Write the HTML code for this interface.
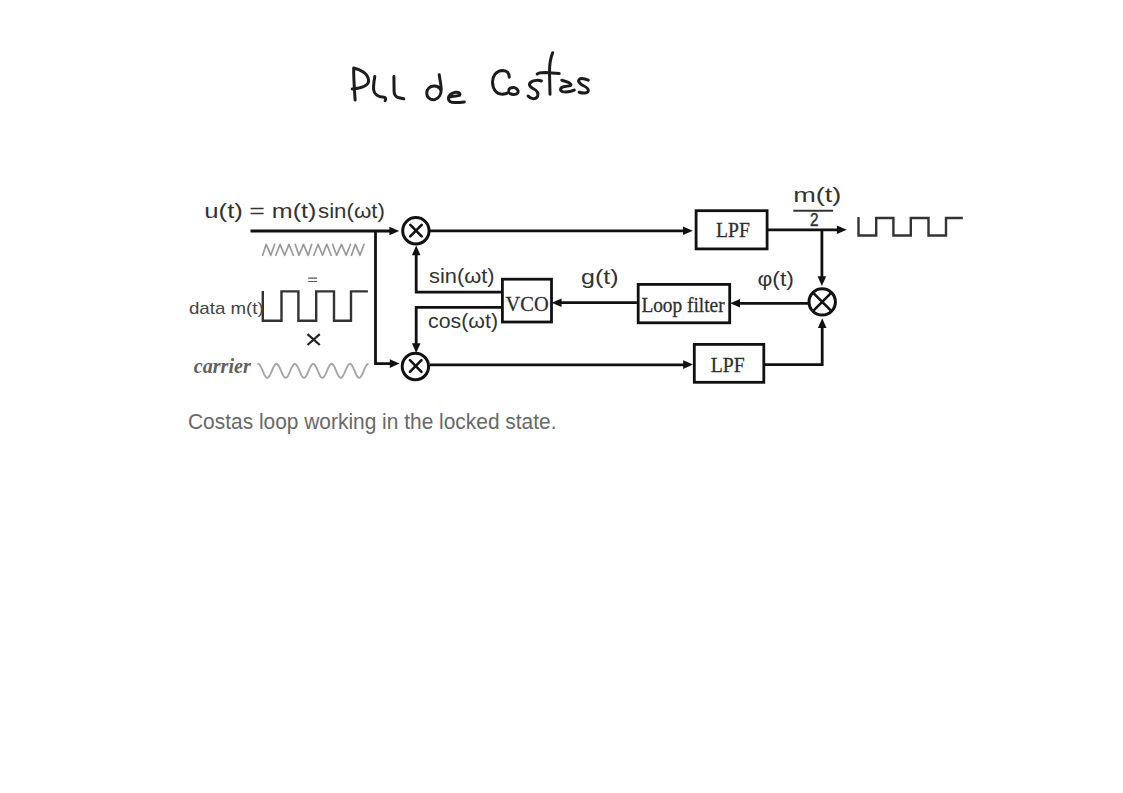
<!DOCTYPE html>
<html><head><meta charset="utf-8">
<style>
html,body{margin:0;padding:0;background:#fff;width:1123px;height:793px;overflow:hidden}
svg{display:block;position:absolute;left:0;top:0}
</style></head>
<body>
<svg width="1123" height="793" viewBox="0 0 1123 793">
<rect width="1123" height="793" fill="#fff"/>
<!-- handwriting -->
<g fill="none" stroke="#1c1c1c" stroke-width="3" stroke-linecap="round" stroke-linejoin="round">
<path d="M355.1,100 C354.5,90 353.5,78 353.7,68 C360,69.3 368,73.5 368.6,80.3 C369,85.5 361,88 352.2,88.9"/>
<path d="M374.8,76.4 C374,81 373.3,86 373.6,89.7 C374,94 378,97 384,97.3 C386,97.6 386,99.5 385.1,100.7"/>
<path d="M393.9,76.4 L394.1,90.9 C394,94.5 396,96.7 398,97.5 L403.7,98.8"/>
<path d="M439.2,74.8 C440,80 441.2,85 441.2,89.5 C441.2,94 439,98.6 435,99.5 C430,100.3 426.7,97 426.7,93.2 C426.7,89 430,86 434,86 C437.5,86 440,88 441,90.5"/>
<path d="M449.8,96.9 C453,96.5 457,96 459.6,95.4 C460.8,93.0 458,91.9 455.5,92.2 C451.5,93.2 448.4,95.6 448.4,98.6 C448.6,101.5 451,102.6 455,102.6 C458.5,102.6 461.5,102.3 464.3,101.9"/>
<path d="M509.2,77.2 C509.3,72.5 506.5,70.4 502.4,70.4 C496,70.6 492.5,76.5 492.5,82 C492.7,89.5 496.5,94.2 502,94.2 C505,94.2 507,93.5 508.5,92.5"/>
<path d="M508.8,90.5 C508.6,88 511,87.5 513.8,87.6 C517.5,88 518.7,91 517.8,93 C516.5,95 512,95 510,93.5"/>
<path d="M541.4,81 C539,80 534,80 531,82 C528,84.5 530,87 533,88.5 C537,90.5 539,93 537.5,96.5 C536,99.5 531,99.5 528.1,96"/>
<path d="M552.7,52.7 C550.5,58 549.5,64 549.5,72 L550,94.3"/>
<path d="M537.2,74 C538.5,72.5 541,72.4 545,72.4 L559.2,73.6"/>
<path d="M561.8,80.2 C565,81 570,82.5 570.9,84.4 C571.5,86 567,86.3 563.7,86.7 C560,87.5 559.5,90.5 562.6,91.6 C566,92.5 571,91.5 574.3,90.1"/>
<path d="M588.3,80.2 C585.5,79 581,77.5 579.2,79.5 C577.5,81.5 580,83.5 582,85 C585,86.5 589,88 588.3,91 C587.5,93.5 583,93.5 579.2,92.3"/>
</g>

<!-- diagram lines -->
<g fill="none" stroke="#111" stroke-width="2.8" stroke-linejoin="miter">
<path d="M250.5,231 H391"/>
<path d="M375.5,231 V363.6 H392"/>
<path d="M429,230.8 H685"/>
<path d="M767.8,229.8 H839"/>
<path d="M821.9,229.8 V278"/>
<path d="M808,303.3 H738"/>
<path d="M636.9,302.7 H559"/>
<path d="M501.4,292.1 H416.2 V253"/>
<path d="M501.4,307.3 H416.2 V346"/>
<path d="M430,364.9 H686"/>
<path d="M764.3,364.7 H822.2 V326"/>
<rect x="502.4" y="279.2" width="49.1" height="42.8"/>
<rect x="638.2" y="284.4" width="91.5" height="38.4"/>
<rect x="696.1" y="210.7" width="71" height="38.2"/>
<rect x="694.3" y="344.4" width="69.5" height="37.9"/>
</g>
<g fill="none" stroke="#111" stroke-width="3">
<circle cx="415.9" cy="230.8" r="13.2"/>
<circle cx="415.4" cy="366.5" r="13.2"/>
<circle cx="822.2" cy="301.9" r="13.2"/>
</g>
<g fill="none" stroke="#111" stroke-width="2.6" stroke-linecap="round">
<path d="M410.3,224.9 L421.7,236.3 M421.7,224.9 L410.3,236.3"/>
<path d="M409.9,360.2 L421.5,371.8 M421.5,360.2 L409.9,371.8"/>
<path d="M813.2,292.9 L831.2,310.9 M831.2,292.9 L813.2,310.9"/>
</g>
<!-- arrowheads -->
<g fill="#111">
<path d="M399.2,231.0 L389.4,226.7 L389.4,235.3 Z"/>
<path d="M399.6,363.6 L389.8,359.3 L389.8,367.9 Z"/>
<path d="M692.8,230.8 L683.0,226.5 L683.0,235.1 Z"/>
<path d="M846.7,229.8 L836.9,225.5 L836.9,234.1 Z"/>
<path d="M821.9,286.0 L817.6,276.2 L826.2,276.2 Z"/>
<path d="M730.2,303.3 L740.0,299.0 L740.0,307.6 Z"/>
<path d="M551.7,302.7 L561.5,298.4 L561.5,307.0 Z"/>
<path d="M416.2,245.4 L411.9,255.2 L420.5,255.2 Z"/>
<path d="M416.2,353 L411.9,343.2 L420.5,343.2 Z"/>
<path d="M693.0,364.6 L683.2,360.3 L683.2,368.9 Z"/>
<path d="M822.2,318.3 L817.9,328.1 L826.5,328.1 Z"/>
</g>
<!-- square waves -->
<g fill="none" stroke="#333" stroke-width="2.4">
<path d="M858.5,217 V235.5 H876.2 V218 H893.4 V235.5 H910.8 V218 H928.5 V235.5 H946 V218 H962.8"/>
<path d="M262.8,291 V320.8 H281.5 V291.4 H298.4 V320.8 H316.2 V291.4 H334 V320.8 H351 V291.4 H367.9"/>
</g>
<!-- waves -->
<path fill="none" stroke="#9a9a9a" stroke-width="1.7" stroke-linejoin="round" stroke-linecap="round" d="M262.6,255.3 L266.2,244.3 L270.8,255.3 L274.7,244.3 M275.8,255.3 L280.1,244.3 L284.7,255.3 L289,244.3 L293.3,255.3 M295.2,244.3 L298.9,255.3 L303.5,244.3 L308.2,255.3 L311.7,244.3 M313.8,255.3 L318.1,244.3 L322.5,255.3 L326.8,244.3 L331.1,255.3 M332.6,244.3 L336.6,255.3 L341.5,244.3 L346.2,255.3 L350.5,244.3 M351.5,255.3 L355.4,244.3 L360,255.3 L364,244.3"/>
<path fill="none" stroke="#a6a6a6" stroke-width="1.9" stroke-linejoin="round" stroke-linecap="round" d="M258.10,363.90 L258.70,364.05 L259.30,364.48 L259.90,365.18 L260.50,366.11 L261.10,367.25 L261.70,368.54 L262.30,369.92 L262.90,371.34 L263.50,372.75 L264.10,374.07 L264.70,375.26 L265.30,376.26 L265.90,377.03 L266.50,377.55 L267.10,377.79 L267.70,377.73 L268.30,377.39 L268.90,376.77 L269.50,375.90 L270.10,374.82 L270.70,373.57 L271.30,372.21 L271.90,370.80 L272.50,369.38 L273.10,368.03 L273.70,366.79 L274.30,365.73 L274.90,364.88 L275.50,364.28 L276.10,363.96 L276.70,363.92 L277.30,364.18 L277.90,364.71 L278.50,365.51 L279.10,366.53 L279.70,367.73 L280.30,369.06 L280.90,370.46 L281.50,371.89 L282.10,373.26 L282.70,374.54 L283.30,375.66 L283.90,376.59 L284.50,377.26 L285.10,377.68 L285.70,377.80 L286.30,377.63 L286.90,377.18 L287.50,376.46 L288.10,375.51 L288.70,374.36 L289.30,373.06 L289.90,371.67 L290.50,370.25 L291.10,368.85 L291.70,367.54 L292.30,366.36 L292.90,365.37 L293.50,364.62 L294.10,364.12 L294.70,363.91 L295.30,363.99 L295.90,364.35 L296.50,364.99 L297.10,365.88 L297.70,366.97 L298.30,368.22 L298.90,369.59 L299.50,371.01 L300.10,372.42 L300.70,373.77 L301.30,374.99 L301.90,376.04 L302.50,376.88 L303.10,377.46 L303.70,377.76 L304.30,377.77 L304.90,377.49 L305.50,376.93 L306.10,376.12 L306.70,375.09 L307.30,373.88 L307.90,372.54 L308.50,371.13 L309.10,369.71 L309.70,368.34 L310.30,367.07 L310.90,365.96 L311.50,365.06 L312.10,364.39 L312.70,364.01 L313.30,363.90 L313.90,364.09 L314.50,364.57 L315.10,365.30 L315.70,366.27 L316.30,367.43 L316.90,368.74 L317.50,370.13 L318.10,371.56 L318.70,372.95 L319.30,374.26 L319.90,375.42 L320.50,376.39 L321.10,377.13 L321.70,377.60 L322.30,377.80 L322.90,377.70 L323.50,377.31 L324.10,376.65 L324.70,375.75 L325.30,374.64 L325.90,373.38 L326.50,372.00 L327.10,370.58 L327.70,369.17 L328.30,367.83 L328.90,366.62 L329.50,365.59 L330.10,364.77 L330.70,364.21 L331.30,363.93 L331.90,363.94 L332.50,364.24 L333.10,364.82 L333.70,365.65 L334.30,366.70 L334.90,367.92 L335.50,369.27 L336.10,370.68 L336.70,372.10 L337.30,373.46 L337.90,374.72 L338.50,375.82 L339.10,376.70 L339.70,377.34 L340.30,377.71 L340.90,377.79 L341.50,377.58 L342.10,377.09 L342.70,376.33 L343.30,375.35 L343.90,374.17 L344.50,372.86 L345.10,371.46 L345.70,370.04 L346.30,368.65 L346.90,367.35 L347.50,366.20 L348.10,365.25 L348.70,364.53 L349.30,364.07 L349.90,363.90 L350.50,364.02 L351.10,364.43 L351.70,365.11 L352.30,366.03 L352.90,367.15 L353.50,368.42 L354.10,369.80 L354.70,371.22 L355.30,372.63 L355.90,373.96 L356.50,375.16 L357.10,376.18 L357.70,376.98 L358.30,377.52 L358.90,377.78 L359.50,377.75 L360.10,377.42 L360.70,376.83 L361.30,375.98 L361.90,374.92 L362.50,373.68 L363.10,372.33 L363.70,370.92 L364.30,369.50 L364.90,368.14 L365.50,366.89 L366.10,365.81 L366.70,364.94 L367.30,364.32 L367.90,363.97"/>

<!-- labels -->
<g font-family="Liberation Sans, sans-serif" fill="#333" font-size="21">
<text x="204.3" y="218.4" textLength="38.6" lengthAdjust="spacingAndGlyphs">u(t)</text>
<text x="249.3" y="218.4" textLength="15.6" lengthAdjust="spacingAndGlyphs">=</text>
<text x="271.8" y="218.4" textLength="44.6" lengthAdjust="spacingAndGlyphs">m(t)</text>
<text x="318" y="218.4" textLength="66.9" lengthAdjust="spacingAndGlyphs">sin(ωt)</text>
<text x="429" y="283.2" textLength="65.6" lengthAdjust="spacingAndGlyphs">sin(ωt)</text>
<text x="428" y="328.1" textLength="70" lengthAdjust="spacingAndGlyphs">cos(ωt)</text>
<text x="581" y="284" textLength="37.6" lengthAdjust="spacingAndGlyphs">g(t)</text>
<text x="757.4" y="286.4" textLength="36.6" lengthAdjust="spacingAndGlyphs">φ(t)</text>
<text x="793.2" y="201.6" textLength="48.2" lengthAdjust="spacingAndGlyphs">m(t)</text>
<text x="810.1" y="225.7" font-size="18" stroke="#333" stroke-width="0.5" textLength="8.5" lengthAdjust="spacingAndGlyphs">2</text>
<text x="188.9" y="313.7" font-size="17" fill="#444" textLength="74.9" lengthAdjust="spacingAndGlyphs">data m(t)</text>
</g>
<path d="M793.3,210.7 H833.1" stroke="#333" stroke-width="2"/>
<path d="M308.2,278.2 H317.1 M308.2,281.5 H317.1" stroke="#555" stroke-width="1.2"/>
<path d="M307.5,334.2 L319.8,345 M319.8,334.2 L307.5,345" stroke="#222" stroke-width="2.2"/>
<g font-family="Liberation Serif, serif" fill="#2e2e2e" font-size="21" stroke="#2e2e2e" stroke-width="0.3">
<text x="505.6" y="310.6" font-size="22" textLength="43.1" lengthAdjust="spacingAndGlyphs">VCO</text>
<text x="641.4" y="311.5" textLength="83.2" lengthAdjust="spacingAndGlyphs">Loop filter</text>
<text x="716.1" y="237.1" textLength="33.8" lengthAdjust="spacingAndGlyphs">LPF</text>
<text x="710.8" y="371.8" textLength="33.9" lengthAdjust="spacingAndGlyphs">LPF</text>
<text x="193.8" y="372.6" font-size="20.5" font-style="italic" font-weight="bold" fill="#606060" stroke="none" textLength="57" lengthAdjust="spacingAndGlyphs">carrier</text>
</g>
<text x="188" y="428.6" font-family="Liberation Sans, sans-serif" font-size="22.3" fill="#686868" textLength="368.5" lengthAdjust="spacingAndGlyphs">Costas loop working in the locked state.</text>
</svg>
</body></html>
